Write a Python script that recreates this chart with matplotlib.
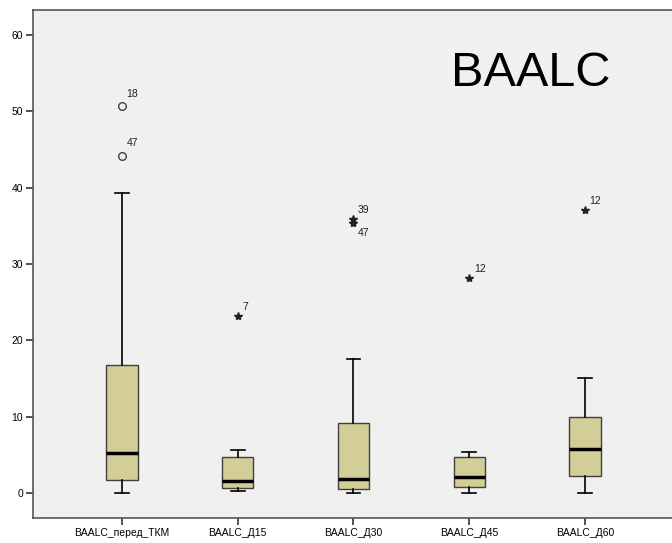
import matplotlib
matplotlib.use("Agg")
import matplotlib.pyplot as plt

plt.rcParams['font.family'] = ['Liberation Sans', 'DejaVu Sans']

# box statistics
labels = ['BAALC_перед_ТКМ', 'BAALC_Д15', 'BAALC_Д30', 'BAALC_Д45', 'BAALC_Д60']
whislo = [0.0, 0.2, 0.0, 0.0, 0.0]
q1 = [1.7, 0.6, 0.5, 0.7, 2.2]
med = [5.2, 1.5, 1.75, 2.1, 5.8]
q3 = [16.8, 4.7, 9.1, 4.65, 9.9]
whishi = [39.3, 5.6, 17.6, 5.4, 15.0]

# outliers (value, case number), circles = mild, stars = extreme
mild = [[(50.7, '18'), (44.2, '47')], [], [], [], []]
extreme = [[], [(23.2, '7')], [(35.9, '39'), (35.3, '47')], [(28.1, '12')], [(37.1, '12')]]

stats = []
for i in range(len(labels)):
    stats.append(dict(whislo=whislo[i], q1=q1[i], med=med[i], q3=q3[i],
                      whishi=whishi[i], fliers=[], label=labels[i]))

fig = plt.figure(figsize=(6.72, 5.43), dpi=100)
ax = fig.add_axes([0.049, 0.046, 0.9505, 0.936])
ax.set_facecolor('#f0f0f0')

pos = list(range(1, len(labels) + 1))
ax.bxp(stats, positions=pos, widths=0.27, patch_artist=True, showfliers=False,
       boxprops=dict(facecolor='#d3ce98', edgecolor='#404040', linewidth=1.0),
       medianprops=dict(color='black', linewidth=2.5),
       whiskerprops=dict(color='black', linewidth=1.2),
       capprops=dict(color='black', linewidth=1.2),
       capwidths=0.12)

for i, pts in enumerate(mild):
    for v, lab in pts:
        ax.plot(pos[i], v, 'o', mfc='none', mec='#404040', ms=5.5, mew=1.0)
        ax.text(pos[i] + 0.04, v + 1.2, lab, fontsize=7.5, color='#222222')

for i, pts in enumerate(extreme):
    for j, (v, lab) in enumerate(pts):
        ax.plot(pos[i], v, '*', color='#222222', ms=6)
        if len(pts) > 1 and j == 1:
            ax.text(pos[i] + 0.04, v - 1.6, lab, fontsize=7.5, color='#222222')
        else:
            ax.text(pos[i] + 0.04, v + 0.8, lab, fontsize=7.5, color='#222222')

ax.text(0.655, 0.875, 'BAALC', transform=ax.transAxes, fontsize=35, color='black',
        ha='left', va='center')

ax.set_xlim(0.23, 5.75)
ax.set_ylim(-3.3, 63.3)
ax.set_yticks([0, 10, 20, 30, 40, 50, 60])
ax.set_xticks(pos)
ax.set_xticklabels(labels)
ax.tick_params(axis='both', labelsize=7.5, length=5, width=1.2, color='#333333', pad=2)
for s in ax.spines.values():
    s.set_color('#555555')
    s.set_linewidth(1.2)
ax.spines['right'].set_visible(False)

fig.savefig('out.png', dpi=100)
